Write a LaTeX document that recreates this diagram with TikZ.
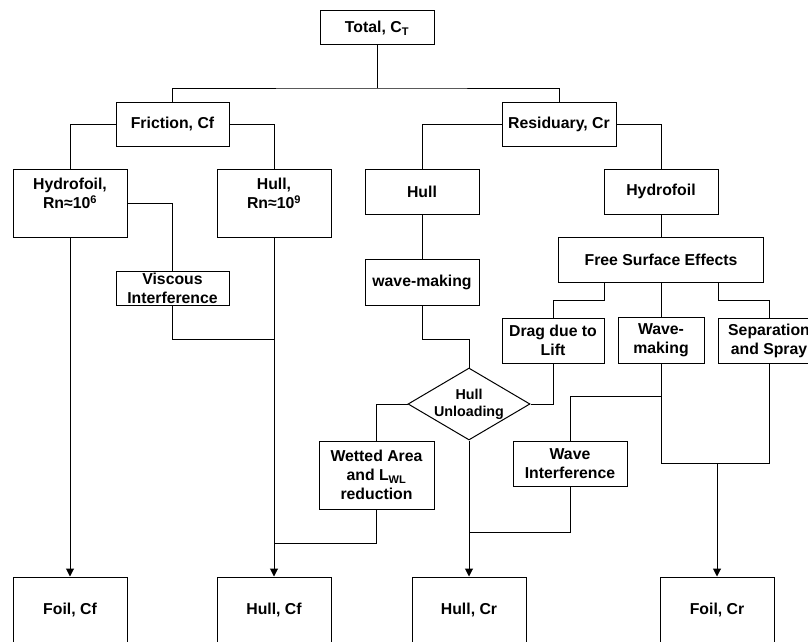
\documentclass[tikz,border=0pt]{standalone}
\usepackage{fontspec}
\setmainfont{Liberation Sans}
\usetikzlibrary{shapes.geometric,arrows.meta,calc}
\begin{document}
\begin{tikzpicture}[x=1pt,y=-1pt,
  box/.style={draw=black, line width=1pt, rectangle, align=center, inner sep=0pt,
    font=\fontsize{15.8}{19}\selectfont\bfseries, minimum width=114pt},
  dia/.style={draw=black, line width=1pt, diamond, aspect=1.7, inner sep=0pt,
    minimum width=122pt, minimum height=72pt, align=center,
    font=\fontsize{14.3}{17}\selectfont\bfseries},
  conn/.style={draw=black, line width=1pt},
  arr/.style={conn, -{Triangle[length=8pt,width=8pt]}},
]
\useasboundingbox (0,0) rectangle (808,642);

% nodes
\node[box, minimum height=34pt] (total) at (377,28) {Total, C\textsubscript{T}};
\node[box, minimum width=113pt, minimum height=44pt] (friction) at (172.5,124) {Friction, Cf};
\node[box, minimum height=44pt] (resid) at (559,124) {Residuary, Cr};
\node[box, minimum height=68pt] (hfoilF) at (70,203) {Hydrofoil,\\Rn≈10\textsuperscript{6}\\\mbox{}};
\node[box, minimum height=68pt] (hullF) at (274,203) {Hull,\\Rn≈10\textsuperscript{9}\\\mbox{}};
\node[box, minimum width=113pt, minimum height=34pt] (viscous) at (172.5,288) {Viscous\\Interference};
\node[box, minimum height=45pt] (hullR) at (422,191.5) {Hull};
\node[box, minimum height=46pt] (wavemk) at (422,282) {wave-making};
\node[box, minimum height=45pt] (hfoilR) at (661,191.5) {Hydrofoil};
\node[box, minimum width=205pt, minimum height=45pt] (fse) at (661,259.5) {Free Surface Effects};
\node[box, minimum width=102pt, minimum height=45pt] (drag) at (553,340.5) {Drag due to\\Lift};
\node[box, minimum width=86pt, minimum height=46pt] (wave2) at (661,340) {Wave-\\making};
\node[box, minimum width=102pt, minimum height=45pt] (sep) at (769,340.5) {Separation\\and Spray};
\node[dia] (unload) at (469,404) {Hull\\Unloading};
\node[box, minimum width=115pt, minimum height=68pt] (wetted) at (376.5,475) {Wetted Area\\and L\textsubscript{WL}\\reduction};
\node[box, minimum height=45pt] (waveint) at (570,463.5) {Wave\\Interference};
\node[box, minimum height=66pt] (foilCf) at (70,610) {Foil, Cf};
\node[box, minimum height=66pt] (hullCf) at (274,610) {Hull, Cf};
\node[box, minimum height=66pt] (hullCr) at (469,610) {Hull, Cr};
\node[box, minimum height=66pt] (foilCr) at (717,610) {Foil, Cr};

% junctions
\coordinate (j0) at (377,88);
\coordinate (jv) at (274,339);
\coordinate (jw) at (274,543);
\coordinate (jr) at (717,463);
\coordinate (jc) at (469,532);

% connectors
\draw[conn] (total.south) -- (j0);
\draw[conn] (friction.north) |- (j0) -| (resid.north);
\draw[conn] (friction.west) -| (hfoilF.north);
\draw[conn] (friction.east) -| (hullF.north);
\draw[conn] (hfoilF.east) -| (viscous.north);
\draw[arr] (hfoilF.south) -- (foilCf.north);
\draw[arr] (hullF.south) -- (hullCf.north);
\draw[conn] (viscous.south) |- (jv);
\draw[conn] (wetted.south) |- (jw);
\draw[conn] (resid.west) -| (hullR.north);
\draw[conn] (resid.east) -| (hfoilR.north);
\draw[conn] (hullR.south) -- (wavemk.north);
\draw[conn] (wavemk.south) -- ++(0,34) -| (unload.north);
\draw[conn] (hfoilR.south) -- (fse.north);
\draw[conn] ([xshift=-57pt]fse.south) -- ++(0,18) -| (drag.north);
\draw[conn] (fse.south) -- (wave2.north);
\draw[conn] ([xshift=57pt]fse.south) -- ++(0,18) -| (sep.north);
\draw[conn] (drag.south) |- (unload.east);
\draw[conn] (unload.west) -| (wetted.north);
\draw[arr] (unload.south) -- (hullCr.north);
\draw[conn] (wave2.south) -- ++(0,33) -| (waveint.north);
\draw[conn] (wave2.south) |- (jr);
\draw[conn] (sep.south) |- (jr);
\draw[arr] (jr) -- (foilCr.north);
\draw[conn] (waveint.south) |- (jc);
\end{tikzpicture}
\end{document}
